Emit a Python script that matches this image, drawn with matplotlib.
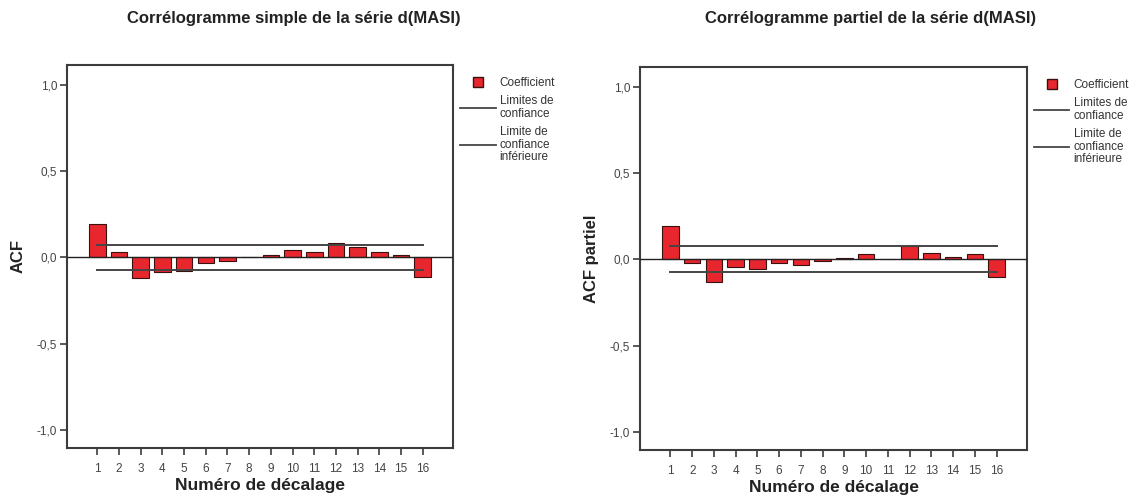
import matplotlib.pyplot as plt
from matplotlib.lines import Line2D

plt.rcParams['font.family'] = ['Liberation Sans', 'DejaVu Sans']

lags = list(range(1, 17))

# valeurs
acf = [0.193, 0.030, -0.120, -0.083, -0.077, -0.030, -0.023, 0.004,
       0.015, 0.042, 0.030, 0.083, 0.062, 0.030, 0.012, -0.112]
pacf = [0.193, -0.019, -0.130, -0.043, -0.054, -0.021, -0.031, -0.008,
        0.008, 0.029, 0.005, 0.079, 0.039, 0.015, 0.029, -0.104]
conf_acf = 0.073
conf_pacf = 0.075

yticks = [-1.0, -0.5, 0.0, 0.5, 1.0]
ytick_labels = ["-1,0", "-0,5", "0,0", "0,5", "1,0"]

titles = ["Corrélogramme simple de la série d(MASI)",
          "Corrélogramme partiel de la série d(MASI)"]
ylabels = ["ACF", "ACF partiel"]
legend_labels = ["Coefficient", "Limites de\nconfiance", "Limite de\nconfiance\ninférieure"]

BAR_RED = "#e8262e"
EDGE = "#3a1010"
LINE_GREY = "#454545"
SPINE = "#3c3c3c"

fig = plt.figure(figsize=(11.39, 4.97), dpi=100)
positions = [[0.0588, 0.0986, 0.339, 0.771],
             [0.5619, 0.0946, 0.3398, 0.7706]]
title_x = [0.258, 0.764]

for i, (vals, conf) in enumerate([(acf, conf_acf), (pacf, conf_pacf)]):
    ax = fig.add_axes(positions[i])
    ax.bar(lags, vals, width=0.76, color=BAR_RED, edgecolor=EDGE, linewidth=0.8, zorder=2)
    ax.axhline(0, color="#222222", linewidth=1.0, zorder=3)
    ax.plot([lags[0], lags[-1]], [conf, conf], color=LINE_GREY, linewidth=1.4, zorder=4)
    ax.plot([lags[0], lags[-1]], [-conf, -conf], color=LINE_GREY, linewidth=1.4, zorder=4)

    ax.set_xlim(-0.4, 17.4)
    ax.set_ylim(-1.104, 1.115)
    ax.set_xticks(lags)
    ax.set_xticklabels([str(l) for l in lags], fontsize=8.5, color="#444444")
    ax.set_yticks(yticks)
    ax.set_yticklabels(ytick_labels, fontsize=8.5, color="#444444")
    ax.tick_params(direction="out", length=5, width=1.2, color=SPINE, pad=2)
    ax.tick_params(axis="x", pad=6)
    for s in ax.spines.values():
        s.set_linewidth(1.5)
        s.set_color(SPINE)

    ax.set_xlabel("Numéro de décalage", fontsize=12.5, fontweight="bold", color="#222222", labelpad=2)
    ax.set_ylabel(ylabels[i], fontsize=12, fontweight="bold", color="#222222", labelpad=8)

    handles = [Line2D([], [], marker="s", linestyle="none", markersize=7,
                      markerfacecolor=BAR_RED, markeredgecolor=EDGE),
               Line2D([], [], color=LINE_GREY, linewidth=1.3),
               Line2D([], [], color=LINE_GREY, linewidth=1.3)]
    leg = ax.legend(handles, legend_labels, loc="upper left", bbox_to_anchor=(1.012, 0.975),
                    frameon=False, fontsize=8.5, handlelength=3.0, handletextpad=0.35,
                    labelspacing=0.55, borderaxespad=0.0, borderpad=0.2,
                    labelcolor="#333333")
    for t in leg.get_texts():
        t.set_linespacing(1.05)

    fig.text(title_x[i], 0.962, titles[i], ha="center", va="center",
             fontsize=12, fontweight="bold", color="#222222")

fig.savefig("out.png", dpi=100)
